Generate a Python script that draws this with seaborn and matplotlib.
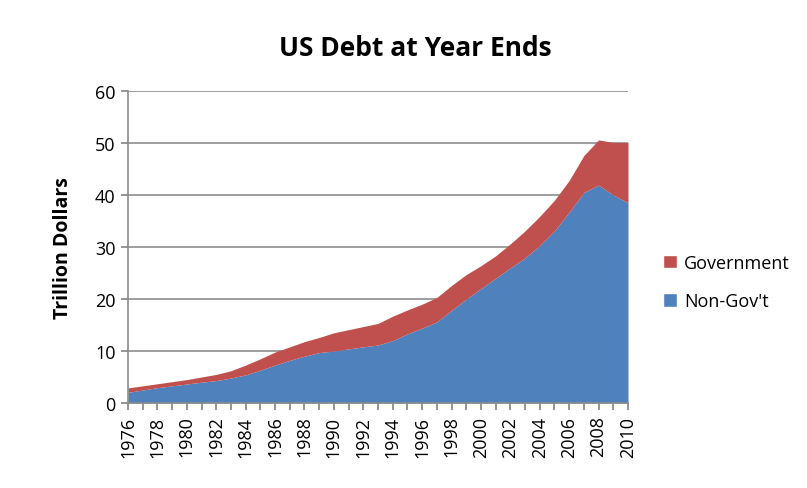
import numpy as np
import pandas as pd
import matplotlib
matplotlib.use("Agg")
import matplotlib.pyplot as plt
import seaborn as sns
from matplotlib.patches import Patch

years = list(range(1976, 2011))
non_gov = [2.05, 2.5, 2.95, 3.3, 3.65, 4.0, 4.3, 4.8, 5.4, 6.3, 7.3, 8.2, 9.0, 9.7,
           10.0, 10.4, 10.8, 11.15, 12.0, 13.3, 14.4, 15.6, 17.8, 20.0, 22.0, 24.0,
           26.0, 27.9, 30.3, 33.1, 36.7, 40.5, 41.9, 40.0, 38.5]
total = [2.9, 3.3, 3.7, 4.1, 4.5, 5.0, 5.5, 6.2, 7.3, 8.5, 9.8, 10.8, 11.8, 12.6,
         13.5, 14.1, 14.7, 15.3, 16.7, 17.9, 19.0, 20.3, 22.6, 24.7, 26.4, 28.3,
         30.6, 33.1, 35.9, 39.0, 42.8, 47.6, 50.6, 50.1, 50.1]
government = [t - n for t, n in zip(total, non_gov)]
series_names = ["Non-Gov't", "Government"]
colors = ["#4F81BD", "#C0504D"]
y_ticks = [0, 10, 20, 30, 40, 50, 60]

df = pd.DataFrame({"Year": years, "Non-Gov't": non_gov, "Government": government})

sns.set_theme(style="white")
plt.rcParams["font.family"] = ["Open Sans", "DejaVu Sans"]
plt.rcParams["text.color"] = "black"
plt.rcParams["xtick.color"] = "black"
plt.rcParams["ytick.color"] = "black"
plt.rcParams["axes.labelcolor"] = "black"

fig = plt.figure(figsize=(8.07, 4.89), dpi=100)
ax = fig.add_axes([128/807, 1-404/489, 500/807, 312/489])

ax.stackplot(df["Year"], df["Non-Gov't"], df["Government"], colors=colors,
             linewidth=0, zorder=2)

ax.set_xlim(1976, 2010)
ax.set_ylim(0, 60)
ax.set_yticks(y_ticks)
ax.set_xticks(years, minor=False)
ax.set_xticklabels([str(y) if (y - 1976) % 2 == 0 else "" for y in years],
                   rotation=90, fontsize=13)
ax.tick_params(axis="y", labelsize=13, length=5, color="#888888", direction="out", left=True, pad=4)
ax.tick_params(axis="x", length=5, color="#888888", direction="out", bottom=True, pad=4)
ax.grid(axis="y", color="#8c8c8c", linewidth=1.2, zorder=1)
ax.set_axisbelow(True)
for s in ["top", "right"]:
    ax.spines[s].set_visible(False)
for s in ["left", "bottom"]:
    ax.spines[s].set_color("#8c8c8c")
    ax.spines[s].set_linewidth(1.2)

ax.set_ylabel("Trillion Dollars", fontsize=14, fontweight="bold", labelpad=16)
fig.text(415/807, 1-48/489, "US Debt at Year Ends", ha="center", va="center",
         fontsize=19, fontweight="bold")

handles = [Patch(facecolor=colors[1], label=series_names[1]),
           Patch(facecolor=colors[0], label=series_names[0])]
fig.legend(handles=handles, loc="center left", bbox_to_anchor=(647/807, 1-283/489),
           frameon=False, fontsize=13, handlelength=0.75, handleheight=0.75,
           handletextpad=0.4, labelspacing=1.15)

fig.savefig("out.png", dpi=100)
